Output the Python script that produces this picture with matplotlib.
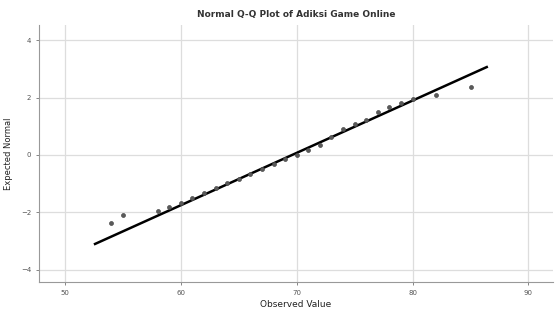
import matplotlib
matplotlib.use("Agg")
import matplotlib.pyplot as plt
import numpy as np

# Nilai observasi dan nilai normal harapan
observed = [54, 55, 58, 59, 60, 61, 62, 63, 64, 65, 66, 67, 68, 69,
            70, 71, 72, 73, 74, 75, 76, 77, 78, 79, 80, 82, 85]
expected = [-2.37, -2.09, -1.95, -1.81, -1.67, -1.50, -1.33, -1.16, -0.99, -0.83,
            -0.66, -0.48, -0.31, -0.14, 0.00, 0.17, 0.35, 0.63, 0.90, 1.08,
            1.22, 1.50, 1.67, 1.81, 1.95, 2.09, 2.37]

# Garis referensi normal
mean_val = 69.6
sd_val = 5.49
line_x = [52.6, 86.4]

x_ticks = [50, 60, 70, 80, 90]
y_ticks = [-4, -2, 0, 2, 4]

fig = plt.figure(figsize=(5.55, 3.14), dpi=100)
ax = fig.add_axes([0.070, 0.102, 0.926, 0.818])

lx = np.array(line_x)
ax.plot(lx, (lx - mean_val) / sd_val, color='black', linewidth=1.8, zorder=2)
ax.scatter(observed, expected, s=8, color='#5a5a5a', edgecolors='#4a4a4a',
           linewidths=0.5, zorder=3)

ax.set_xlim(47.75, 92.1)
ax.set_ylim(-4.42, 4.52)
ax.set_xticks(x_ticks)
ax.set_yticks(y_ticks)
ax.grid(True, color='#dddddd', linewidth=0.9)
ax.set_axisbelow(True)

for s in ['top', 'right']:
    ax.spines[s].set_visible(False)
for s in ['left', 'bottom']:
    ax.spines[s].set_color('#999999')
    ax.spines[s].set_linewidth(0.8)

ax.tick_params(axis='both', labelsize=5, colors='#555555', length=2, width=0.5)

ax.set_title('Normal Q-Q Plot of Adiksi Game Online', fontsize=6.5,
             fontweight='bold', color='#333333', pad=6)
ax.set_xlabel('Observed Value', fontsize=6.5, color='#222222', labelpad=3)
ax.set_ylabel('Expected Normal', fontsize=6, color='#222222', labelpad=6)

fig.savefig('out.png', dpi=100)
